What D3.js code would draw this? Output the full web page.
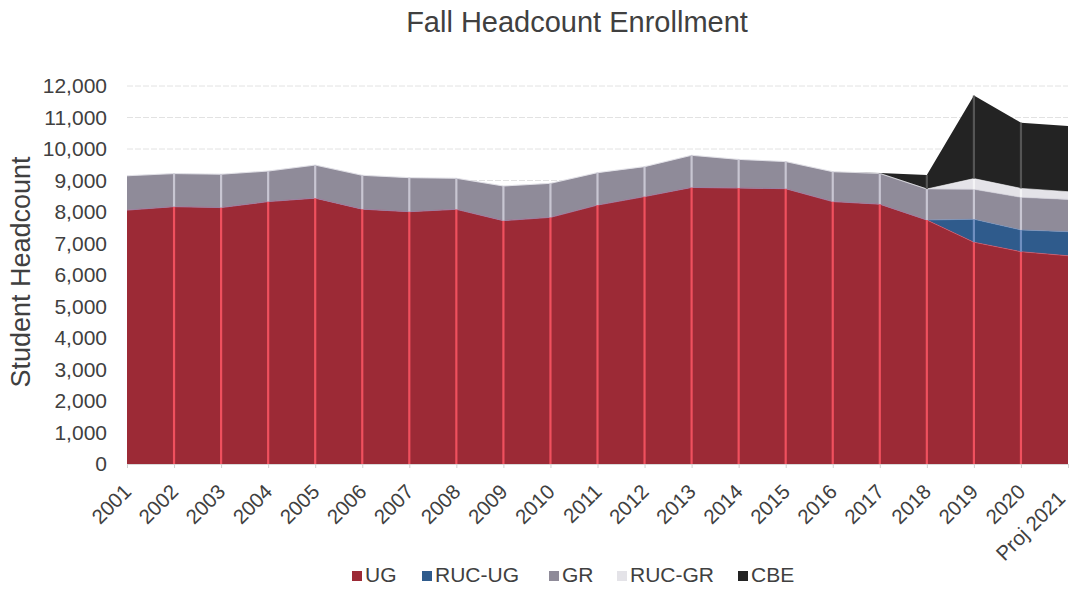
<!DOCTYPE html>
<html>
<head>
<meta charset="utf-8">
<script src="https://cdn.jsdelivr.net/npm/d3@7"></script>
<style>
  html, body { margin: 0; padding: 0; background: #fff; }
  svg { display: block; font-family: "Liberation Sans", Arial, sans-serif; }
</style>
</head>
<body>
<svg id="chart" width="1070" height="591"></svg>
<script>
const categories = ["2001","2002","2003","2004","2005","2006","2007","2008","2009","2010",
  "2011","2012","2013","2014","2015","2016","2017","2018","2019","2020","Proj 2021"];
const seriesNames = ["UG","RUC-UG","GR","RUC-GR","CBE"];
const UG     = [8060,8170,8140,8330,8440,8090,8010,8085,7725,7830,8220,8490,8780,8760,8740,8330,8250,7745,7040,6740,6610];
const RUC_UG = [0,0,0,0,0,0,0,0,0,0,0,0,0,0,0,0,0,0,730,690,765];
const GR     = [1090,1050,1060,970,1050,1075,1080,985,1100,1080,1030,950,1020,910,860,950,975,985,950,1035,1025];
const RUC_GR = [0,0,0,0,0,0,0,0,0,0,0,0,0,0,0,0,0,0,340,285,245];
const CBE    = [0,0,0,0,0,0,0,0,0,0,0,0,0,0,0,0,10,445,2635,2085,2085];
const yTicks = [0,1000,2000,3000,4000,5000,6000,7000,8000,9000,10000,11000,12000];
const colors = ["#9c2a36","#2f5b8c","#8f8b99","#e4e3e8","#232323"];
const seamColors = ["#f0505e","#6f8fc0","#c8c6d2","#f4f4f6","#555555"];

const svg = d3.select("#chart");

const x = d3.scalePoint().domain(categories).range([127, 1068]);
const y = d3.scaleLinear().domain([0, 12000]).range([464, 86]);

const data = categories.map((c, i) => ({cat: c, "UG": UG[i], "RUC-UG": RUC_UG[i], "GR": GR[i], "RUC-GR": RUC_GR[i], "CBE": CBE[i]}));
const stack = d3.stack().keys(seriesNames)(data);

// title
svg.append("text").attr("x", 577).attr("y", 32).attr("text-anchor", "middle")
  .attr("font-size", 29).attr("fill", "#404040").text("Fall Headcount Enrollment");

// gridlines
svg.append("g").selectAll("line").data(yTicks.filter(d => d > 0)).join("line")
  .attr("x1", 127).attr("x2", 1068)
  .attr("y1", d => y(d)).attr("y2", d => y(d))
  .attr("stroke", "#e2e2e2").attr("stroke-width", 1).attr("stroke-dasharray", "6,2");

// areas
const area = d3.area().x(d => x(d.data.cat)).y0(d => y(d[0])).y1(d => y(d[1]));
svg.append("g").selectAll("path").data(stack).join("path")
  .attr("d", area).attr("fill", (d, i) => colors[i]);

// light top edges
const line = d3.line().x(d => x(d.data.cat)).y(d => y(d[1]));
svg.append("g").selectAll("path").data(stack).join("path")
  .attr("d", d => line(d)).attr("fill", "none")
  .attr("stroke", (d, i) => i === 4 ? "none" : seamColors[i]).attr("stroke-width", 1).attr("opacity", 0.6);

// seam lines at each category
const seams = svg.append("g");
stack.forEach((s, si) => {
  seams.selectAll(null).data(s.filter((d, i) => d[1] - d[0] > 0 && i > 0 && i < categories.length - 1)).join("line")
    .attr("x1", d => x(d.data.cat)).attr("x2", d => x(d.data.cat))
    .attr("y1", d => y(d[0])).attr("y2", d => y(d[1]))
    .attr("stroke", seamColors[si]).attr("stroke-width", 2.2);
});

// y axis labels
const yAxis = d3.axisLeft(y).tickValues(yTicks).tickSize(0).tickPadding(20)
  .tickFormat(d3.format(","));
const yg = svg.append("g").attr("transform", "translate(127,0)").call(yAxis);
yg.select(".domain").remove();
yg.selectAll("text").attr("font-size", 21).attr("fill", "#404040")
  .attr("font-family", "'Liberation Sans', Arial, sans-serif");

// x axis
const xAxis = d3.axisBottom(x).tickSize(4).tickPadding(8);
const xg = svg.append("g").attr("transform", "translate(0,464)").call(xAxis);
xg.select(".domain").attr("stroke", "#d9d9d9");
xg.selectAll(".tick line").attr("stroke", "#d0d0d0");
xg.selectAll("text").attr("font-size", 20.5).attr("fill", "#404040")
  .attr("font-family", "'Liberation Sans', Arial, sans-serif")
  .attr("text-anchor", "end")
  .attr("x", 0).attr("y", 0).attr("dy", 0)
  .attr("transform", (d, i) => i === categories.length - 1
      ? "translate(-2,36) rotate(-45)"
      : "translate(5,29) rotate(-45)");

// y title
svg.append("text").attr("transform", "translate(30,272) rotate(-90)")
  .attr("text-anchor", "middle").attr("font-size", 27).attr("fill", "#404040")
  .text("Student Headcount");

// legend
const legendX = [352, 422, 549, 617, 738];
const lg = svg.append("g");
seriesNames.forEach((n, i) => {
  lg.append("rect").attr("x", legendX[i]).attr("y", 571).attr("width", 10).attr("height", 10)
    .attr("fill", colors[i]);
  lg.append("text").attr("x", legendX[i] + 13).attr("y", 582).attr("font-size", 21)
    .attr("fill", "#404040").text(n);
});
</script>
</body>
</html>
